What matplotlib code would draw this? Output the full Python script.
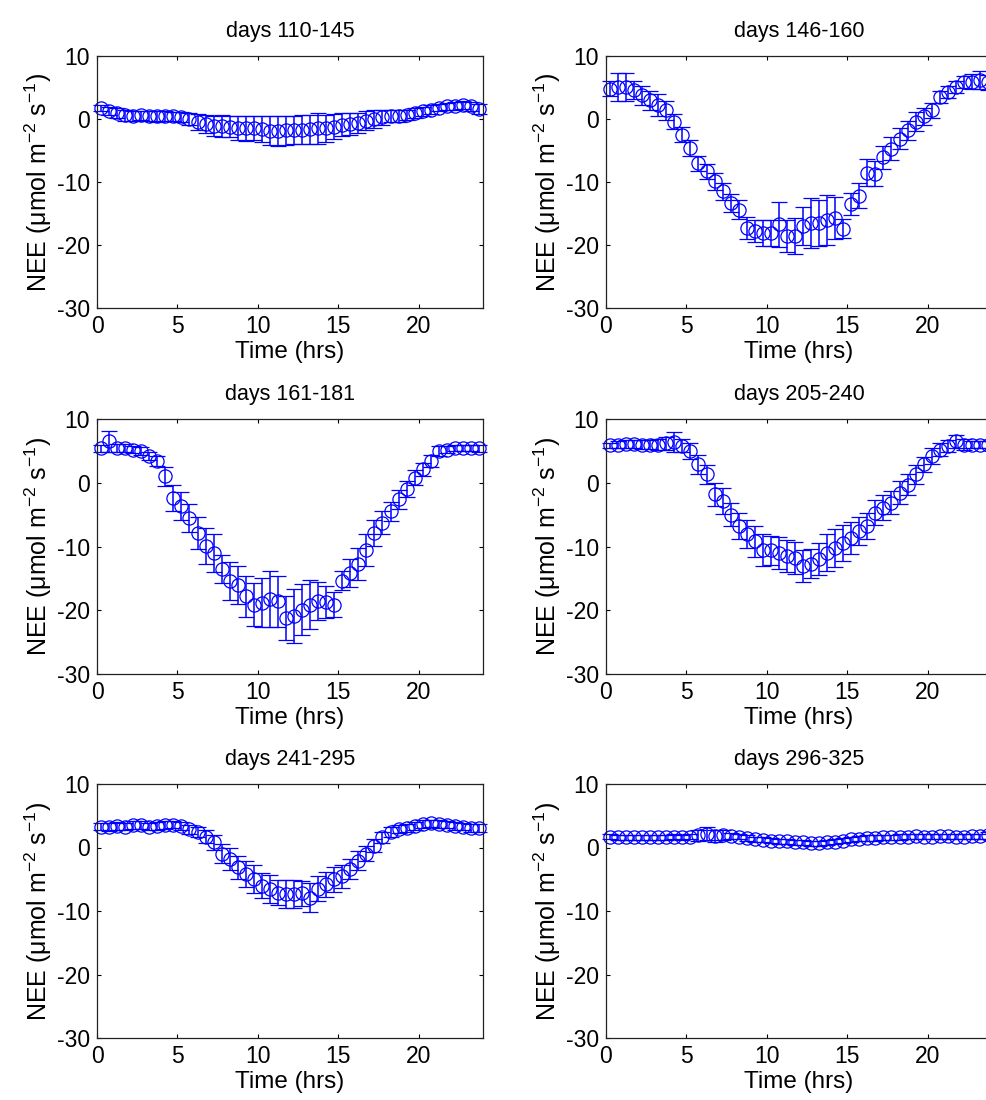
import numpy as np
import matplotlib
matplotlib.use("Agg")
import matplotlib.pyplot as plt

plt.rcParams['font.family'] = ['Liberation Sans', 'DejaVu Sans']
plt.rcParams['mathtext.fontset'] = 'custom'
plt.rcParams['mathtext.rm'] = 'Liberation Sans'
plt.rcParams['mathtext.it'] = 'Liberation Sans:italic'
plt.rcParams['mathtext.default'] = 'regular'
plt.rcParams['axes.unicode_minus'] = False

# half-hourly time stamps (hours)
hours = np.arange(48) * 0.5 + 0.25

titles = ["days 110-145", "days 146-160", "days 161-181",
          "days 205-240", "days 241-295", "days 296-325"]

nee_110_145 = [1.8, 1.3, 0.9, 0.6, 0.5, 0.6, 0.5, 0.4, 0.5, 0.4,
               0.3, 0.0, -0.5, -0.8, -1.1, -1.1, -1.2, -1.5, -1.5, -1.5,
               -1.6, -1.9, -1.9, -1.8, -1.8, -1.7, -1.6, -1.5, -1.5, -1.2,
               -0.9, -0.8, -0.6, -0.3, 0.0, 0.3, 0.5, 0.5, 0.6, 0.9,
               1.2, 1.5, 1.8, 2.0, 2.1, 2.2, 2.0, 1.6]
err_110_145 = [0.5, 0.6, 0.8, 0.9, 0.8, 0.7, 0.8, 0.9, 0.8, 0.7,
               0.8, 1.0, 1.3, 1.5, 1.6, 1.7, 1.7, 1.9, 2.0, 1.9,
               2.1, 2.3, 2.4, 2.3, 2.2, 2.3, 2.3, 2.4, 2.2, 2.0,
               1.8, 1.7, 1.6, 1.5, 1.4, 1.2, 1.0, 0.9, 0.8, 0.8,
               0.7, 0.7, 0.6, 0.6, 0.6, 0.6, 0.7, 0.8]

nee_146_160 = [4.8, 5.1, 5.1, 4.6, 3.8, 3.0, 2.2, 1.4, -0.4, -2.5,
               -4.6, -7.0, -8.3, -9.9, -11.5, -13.3, -14.4, -17.3, -17.8, -18.1,
               -18.1, -16.7, -18.6, -18.6, -17.0, -16.5, -16.5, -16.0, -15.7, -17.4,
               -13.5, -12.2, -8.5, -8.7, -6.1, -4.7, -3.1, -1.8, -0.4, 0.4,
               1.4, 3.5, 4.3, 5.1, 5.9, 5.9, 6.2, 5.8]
err_146_160 = [1.2, 2.2, 2.2, 1.5, 1.5, 1.5, 1.8, 1.5, 1.2, 1.2,
               1.2, 1.2, 1.2, 1.3, 1.4, 1.4, 1.5, 1.8, 1.8, 2.0,
               2.0, 3.6, 2.5, 2.9, 3.0, 4.0, 3.7, 4.0, 3.3, 1.5,
               1.8, 2.0, 2.2, 2.0, 1.8, 1.8, 1.7, 1.5, 1.5, 1.3,
               1.2, 1.0, 1.0, 1.0, 1.0, 1.2, 1.4, 1.2]

nee_161_181 = [5.4, 6.5, 5.5, 5.5, 5.2, 5.0, 4.2, 3.4, 1.0, -2.4,
               -3.7, -5.5, -7.9, -9.9, -11.0, -13.6, -15.4, -16.0, -17.8, -19.1,
               -18.8, -18.3, -18.6, -21.2, -20.9, -19.9, -19.1, -18.6, -18.7, -19.1,
               -15.4, -14.1, -12.8, -10.5, -7.9, -6.3, -4.5, -2.6, -1.0, 0.8,
               2.1, 3.4, 5.0, 5.2, 5.5, 5.5, 5.5, 5.4]
err_161_181 = [0.5, 1.6, 0.6, 0.6, 0.6, 0.6, 0.7, 0.8, 1.5, 2.0,
               2.2, 2.2, 2.5, 2.8, 3.0, 2.2, 3.0, 3.0, 3.2, 3.3,
               3.8, 4.4, 4.0, 3.5, 4.2, 4.0, 3.8, 3.0, 2.5, 2.0,
               1.5, 2.2, 2.5, 2.5, 2.0, 1.8, 1.5, 1.5, 1.2, 1.2,
               1.0, 1.0, 0.8, 0.6, 0.5, 0.5, 0.5, 0.5]

nee_205_240 = [5.9, 6.0, 6.1, 6.1, 6.0, 6.0, 6.0, 6.2, 6.4, 5.8,
               5.0, 2.9, 1.3, -1.8, -2.9, -5.0, -6.8, -8.1, -9.2, -10.5,
               -10.6, -11.0, -11.5, -11.8, -13.1, -12.7, -12.0, -11.0, -10.2, -9.4,
               -8.6, -7.6, -6.8, -4.7, -3.9, -3.1, -1.6, -0.3, 1.3, 2.9,
               4.2, 5.2, 5.8, 6.5, 6.0, 6.0, 6.0, 6.0]
err_205_240 = [0.4, 0.5, 0.6, 0.6, 0.7, 0.7, 0.8, 1.0, 1.5, 1.0,
               1.2, 1.5, 1.5, 1.8, 2.0, 1.8, 2.0, 2.2, 2.4, 2.5,
               2.3, 2.5, 2.5, 2.5, 2.5, 2.3, 2.5, 2.9, 3.0, 2.8,
               2.5, 2.2, 2.0, 2.0, 2.0, 1.8, 1.8, 1.6, 1.5, 1.2,
               1.2, 1.0, 0.9, 1.0, 0.8, 0.6, 0.6, 0.5]

nee_241_295 = [3.3, 3.2, 3.4, 3.3, 3.5, 3.5, 3.3, 3.4, 3.5, 3.6,
               3.4, 2.9, 2.4, 1.7, 0.8, -1.0, -1.8, -3.1, -4.2, -5.0,
               -6.0, -6.5, -7.1, -7.3, -7.3, -7.2, -7.9, -6.5, -5.8, -5.0,
               -4.5, -3.4, -2.1, -1.0, 0.3, 1.6, 2.4, 2.9, 3.1, 3.4,
               3.7, 3.8, 3.7, 3.6, 3.4, 3.3, 3.1, 3.1]
err_241_295 = [0.6, 0.6, 0.6, 0.6, 0.6, 0.6, 0.6, 0.6, 0.6, 0.6,
               0.6, 0.7, 0.8, 1.0, 1.2, 1.5, 1.8, 1.8, 2.0, 2.2,
               2.0, 2.2, 2.0, 2.2, 2.2, 2.0, 2.3, 2.0, 2.0, 2.0,
               1.8, 1.6, 1.5, 1.2, 1.0, 0.9, 0.8, 0.6, 0.6, 0.6,
               0.6, 0.6, 0.6, 0.6, 0.6, 0.6, 0.6, 0.6]

nee_296_325 = [1.7, 1.6, 1.6, 1.6, 1.6, 1.6, 1.6, 1.6, 1.7, 1.6,
               1.7, 1.9, 2.2, 1.8, 2.0, 1.8, 1.7, 1.5, 1.3, 1.2,
               1.1, 1.0, 1.0, 0.8, 0.8, 0.7, 0.7, 0.8, 0.9, 1.1,
               1.3, 1.4, 1.5, 1.5, 1.6, 1.6, 1.7, 1.7, 1.8, 1.7,
               1.7, 1.8, 1.8, 1.7, 1.7, 1.8, 1.8, 1.9]
err_296_325 = [0.4, 0.4, 0.4, 0.4, 0.4, 0.4, 0.4, 0.4, 0.4, 0.4,
               0.4, 0.8, 1.0, 0.9, 0.8, 0.5, 0.4, 0.4, 0.4, 0.4,
               0.4, 0.4, 0.4, 0.4, 0.4, 0.4, 0.4, 0.4, 0.4, 0.4,
               0.4, 0.4, 0.4, 0.4, 0.4, 0.4, 0.5, 0.4, 0.4, 0.4,
               0.4, 0.4, 0.4, 0.4, 0.4, 0.4, 0.4, 0.5]

series = [(nee_110_145, err_110_145), (nee_146_160, err_146_160),
          (nee_161_181, err_161_181), (nee_205_240, err_205_240),
          (nee_241_295, err_241_295), (nee_296_325, err_296_325)]

xticks = [0, 5, 10, 15, 20]
yticks = [-30, -20, -10, 0, 10]

W, H = 986, 1100
fig = plt.figure(figsize=(W / 100, H / 100), dpi=100)

col_left = [97, 606]
ax_w = 386
rows = [(56, 308), (419, 674), (784, 1038)]

for i, (vals, errs) in enumerate(series):
    r, c = divmod(i, 2)
    top, bot = rows[r]
    ax = fig.add_axes([col_left[c] / W, 1 - bot / H, ax_w / W, (bot - top) / H])
    ax.errorbar(hours, vals, yerr=errs, fmt='o', color='blue',
                mfc='none', mec='blue', ms=9.5, mew=0.9,
                elinewidth=1.1, capsize=5.5, capthick=1.1, clip_on=False)
    ax.set_xlim(0, 24)
    ax.set_ylim(-30, 10)
    ax.set_xticks(xticks)
    ax.set_yticks(yticks)
    ax.tick_params(direction='in', top=True, right=True, length=3,
                   width=0.8, labelsize=16.5, pad=5)
    for s in ax.spines.values():
        s.set_linewidth(0.9)
        s.set_color('#222222')
    ax.set_title(titles[i], fontsize=15.5, pad=14)
    ax.set_xlabel('Time (hrs)', fontsize=17.5, labelpad=2)
    ax.set_ylabel(r'NEE ($\mu$mol m$^{-2}$ s$^{-1}$)', fontsize=18, labelpad=2)

fig.savefig('out.png', dpi=100)
